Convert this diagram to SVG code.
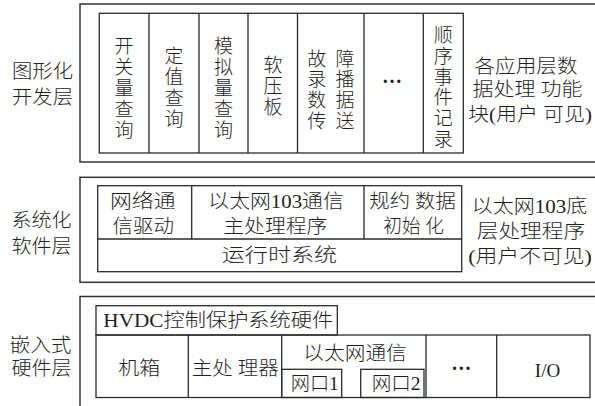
<svg xmlns="http://www.w3.org/2000/svg" width="595" height="406" viewBox="0 0 595 406">
<style>
.b{fill:none;stroke:#2a2a2a;stroke-width:1.3}
.o{fill:none;stroke:#333;stroke-width:1.5}
text{font-family:"Liberation Serif","Noto Sans CJK SC",serif;font-size:19px;fill:#1e1e1e;font-weight:300;dominant-baseline:central;text-anchor:middle}
.l{text-anchor:start}
.d{font-weight:bold;font-size:20px}
</style>
<rect width="595" height="406" fill="#fff"/>
<g id="layer-graphic">
  <rect class="o" x="80" y="4" width="600" height="158"/>
  <text class="l" x="12" y="71" textLength="61" lengthAdjust="spacingAndGlyphs">图形化</text>
  <text class="l" x="12" y="97.5" textLength="61" lengthAdjust="spacingAndGlyphs">开发层</text>
</g>
<g id="app-blocks">
  <rect class="b" x="99.3" y="13.3" width="364" height="139.7"/>
  <path class="b" d="M149 13.3V153M199 13.3V153M248 13.3V153M297.5 13.3V153M364 13.3V153M423.3 13.3V153"/>
</g>
<g id="n-switch">
  <text x="124"><tspan x="124" y="46.4">开</tspan><tspan x="124" y="67.2">关</tspan><tspan x="124" y="88">量</tspan><tspan x="124" y="108.8">查</tspan><tspan x="124" y="129.6">询</tspan></text>
</g>
<g id="n-setting">
  <text x="174"><tspan x="174" y="56.3">定</tspan><tspan x="174" y="77.1">值</tspan><tspan x="174" y="97.9">查</tspan><tspan x="174" y="118.7">询</tspan></text>
</g>
<g id="n-analog">
  <text x="223.5"><tspan x="223.5" y="46.4">模</tspan><tspan x="223.5" y="67.2">拟</tspan><tspan x="223.5" y="88">量</tspan><tspan x="223.5" y="108.8">查</tspan><tspan x="223.5" y="129.6">询</tspan></text>
</g>
<g id="n-softplate">
  <text x="273"><tspan x="273" y="65.2">软</tspan><tspan x="273" y="86">压</tspan><tspan x="273" y="106.8">板</tspan></text>
</g>
<g id="n-fault">
  <text x="316.7"><tspan x="316.7" y="58.5">故</tspan><tspan x="316.7" y="79.3">录</tspan><tspan x="316.7" y="100.1">数</tspan><tspan x="316.7" y="120.9">传</tspan></text>
  <text x="345"><tspan x="345" y="58.5">障</tspan><tspan x="345" y="79.3">播</tspan><tspan x="345" y="100.1">据</tspan><tspan x="345" y="120.9">送</tspan></text>
</g>
<g id="n-dots1">
  <text class="d" x="392" y="76">…</text>
</g>
<g id="n-soe">
  <text x="443.3"><tspan x="443.3" y="35">顺</tspan><tspan x="443.3" y="55.8">序</tspan><tspan x="443.3" y="76.6">事</tspan><tspan x="443.3" y="97.4">件</tspan><tspan x="443.3" y="118.2">记</tspan><tspan x="443.3" y="139">录</tspan></text>
</g>
<g id="n-app-desc">
  <text class="l" x="474.5" y="66.7" textLength="103" lengthAdjust="spacingAndGlyphs">各应用层数</text>
  <text class="l" x="472.5" y="89.5" textLength="110" lengthAdjust="spacingAndGlyphs">据处理 功能</text>
  <text class="l" x="468" y="114.5" textLength="124" lengthAdjust="spacingAndGlyphs">块(用户 可见)</text>
</g>
<g id="layer-system">
  <rect class="o" x="80" y="177.3" width="600" height="105"/>
  <text class="l" x="11.5" y="220" textLength="60" lengthAdjust="spacingAndGlyphs">系统化</text>
  <text class="l" x="11.5" y="246" textLength="60" lengthAdjust="spacingAndGlyphs">软件层</text>
</g>
<g id="sys-blocks">
  <rect class="b" x="97.7" y="185.7" width="364" height="86"/>
  <path class="b" d="M97.7 239H461.7M191.7 185.7V239M364 185.7V239"/>
</g>
<g id="n-netdrv">
  <text class="l" x="110" y="201.7" textLength="65.5" lengthAdjust="spacingAndGlyphs">网络通</text>
  <text class="l" x="112.5" y="226.7" textLength="61.5" lengthAdjust="spacingAndGlyphs">信驱动</text>
</g>
<g id="n-eth103main">
  <text class="l" x="208.3" y="201.7" textLength="135.5" lengthAdjust="spacingAndGlyphs">以太网103通信</text>
  <text class="l" x="223.3" y="226.7" textLength="104" lengthAdjust="spacingAndGlyphs">主处理程序</text>
</g>
<g id="n-protoinit">
  <text class="l" x="369.3" y="201.7" textLength="86.5" lengthAdjust="spacingAndGlyphs">规约 数据</text>
  <text class="l" x="383.3" y="226.7" textLength="60.5" lengthAdjust="spacingAndGlyphs">初始 化</text>
</g>
<g id="n-runtime">
  <text class="l" x="221.7" y="255.3" textLength="115.5" lengthAdjust="spacingAndGlyphs">运行时系统</text>
</g>
<g id="n-sys-desc">
  <text class="l" x="471.7" y="206" textLength="115.5" lengthAdjust="spacingAndGlyphs">以太网103底</text>
  <text class="l" x="476.7" y="231.5" textLength="108.5" lengthAdjust="spacingAndGlyphs">层处理程序</text>
  <text class="l" x="468.3" y="256.7" textLength="123.5" lengthAdjust="spacingAndGlyphs">(用户不可见)</text>
</g>
<g id="layer-hardware">
  <rect class="o" x="80" y="296.5" width="600" height="200"/>
  <text class="l" x="9.5" y="345" textLength="62" lengthAdjust="spacingAndGlyphs">嵌入式</text>
  <text class="l" x="11.5" y="368.5" textLength="60" lengthAdjust="spacingAndGlyphs">硬件层</text>
</g>
<g id="n-hvdc">
  <rect class="b" x="96" y="305.7" width="241.3" height="29.3"/>
  <text class="l" x="103.3" y="320.3" textLength="230" lengthAdjust="spacingAndGlyphs">HVDC控制保护系统硬件</text>
</g>
<g id="hw-blocks">
  <rect class="b" x="96" y="335" width="494" height="62.5"/>
  <path class="b" d="M188.3 335V397.5M281.7 335V397.5M426 335V397.5M496.7 335V397.5"/>
</g>
<g id="n-chassis">
  <text class="l" x="118.3" y="368.5" textLength="42" lengthAdjust="spacingAndGlyphs">机箱</text>
</g>
<g id="n-cpu">
  <text class="l" x="191.7" y="368.5" textLength="87" lengthAdjust="spacingAndGlyphs">主处 理器</text>
</g>
<g id="n-eth">
  <text class="l" x="303.3" y="353.3" textLength="103.5" lengthAdjust="spacingAndGlyphs">以太网通信</text>
</g>
<g id="n-port1">
  <rect class="b" x="281.7" y="369.3" width="60" height="28.2"/>
  <text class="l" x="290.7" y="383.5" textLength="48" lengthAdjust="spacingAndGlyphs">网口1</text>
</g>
<g id="n-port2">
  <rect class="b" x="360.7" y="369.3" width="63.3" height="28.2"/>
  <text class="l" x="371.7" y="383.5" textLength="49" lengthAdjust="spacingAndGlyphs">网口2</text>
</g>
<g id="n-dots2">
  <text class="d" x="461.3" y="363">…</text>
</g>
<g id="n-io">
  <text x="547.5" y="370">I/O</text>
</g>
<g id="connectors"/>
</svg>
